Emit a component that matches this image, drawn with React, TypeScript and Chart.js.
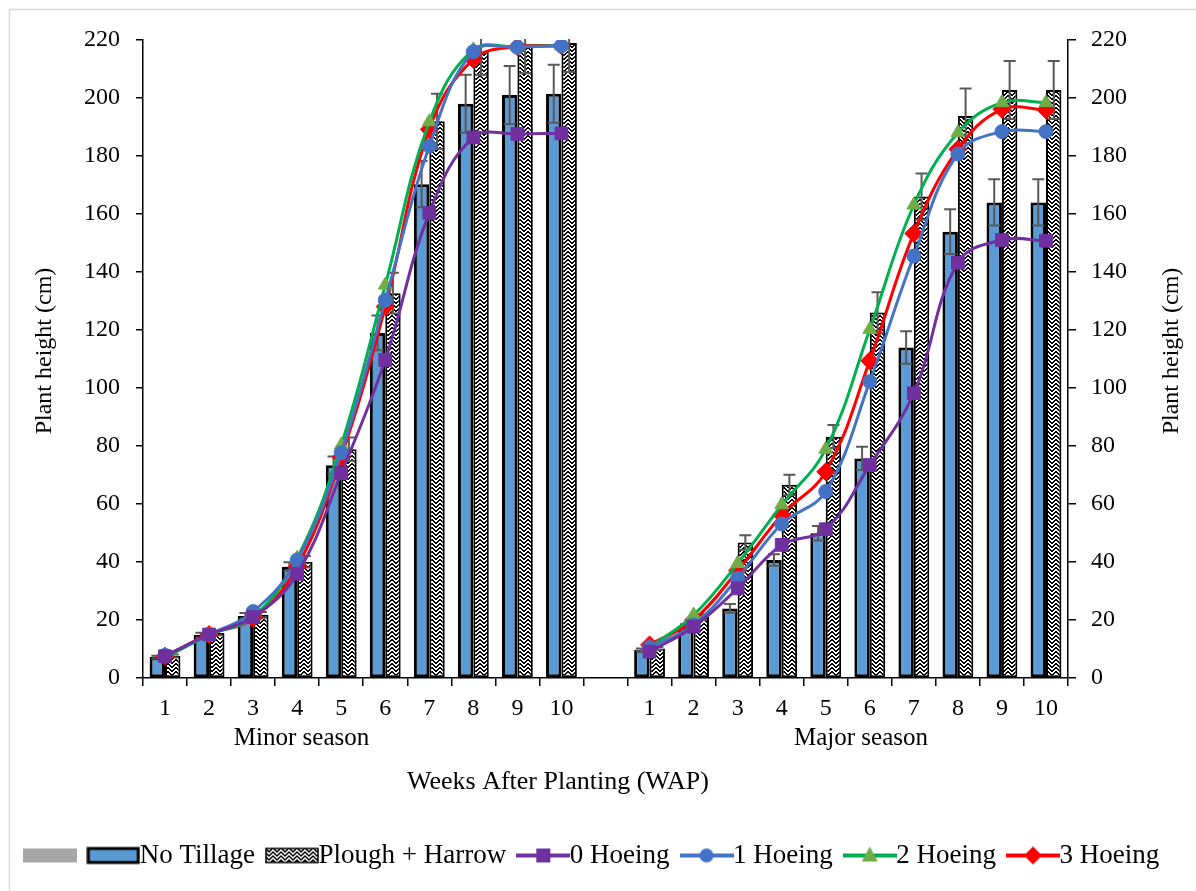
import React, { useEffect, useRef } from 'react';
import { Chart, registerables } from 'chart.js';

Chart.register(...registerables);

// ---------- data ----------
const weekLabels = ['1', '2', '3', '4', '5', '6', '7', '8', '9', '10'];
const categories = [...weekLabels, '', ...weekLabels];
const seasonLabels = ['Minor season', 'Major season'];
const xTitle = 'Weeks After Planting (WAP)';
const yTitle = 'Plant height (cm)';
const yMin = 0;
const yMax = 220;
const yStep = 20;

const minorNoTillage = [7.2, 14.8, 21.4, 38.4, 73.4, 119, 170.3, 198, 201, 201.5];
const majorNoTillage = [9.7, 17.5, 24, 40.7, 49.9, 75.7, 114, 153.9, 164, 164];
const minorNoTillageErr = [0.5, 0.8, 1, 1.5, 3, 6, 8, 10, 10, 10];
const majorNoTillageErr = [0.5, 1, 1.5, 2, 2.5, 4, 5.6, 7.7, 8, 8];

const minorPlough = [7.6, 15.5, 21.8, 40.1, 78.9, 132.7, 192, 216, 218.5, 219];
const majorPlough = [10.2, 21, 46.7, 66.6, 83.2, 126, 166, 193.8, 202.8, 202.8];
const minorPloughErr = [0.5, 0.8, 1, 2, 4, 7, 9.5, 8, 10, 10];
const majorPloughErr = [0.5, 1, 2.5, 3.5, 4, 7, 8, 9.5, 10, 10];

const minorHoe0 = [7.5, 15, 21, 35.9, 70.6, 109.7, 160.4, 186.4, 187.6, 187.8];
const majorHoe0 = [9.1, 17.7, 30.9, 45.9, 51.3, 73.4, 98.2, 143.2, 151, 150.8];
const minorHoe1 = [7.8, 15, 22.9, 40.7, 77.6, 130.3, 183.4, 216, 217.5, 218];
const majorHoe1 = [10.5, 18.3, 34.4, 53.1, 64.3, 102.2, 145.5, 180.7, 188.4, 188.4];
const minorHoe2 = [7, 14.8, 21, 41.3, 80.3, 135.5, 191.8, 216.6, 217.7, 218];
const majorHoe2 = [10.5, 21.7, 39.5, 59.7, 78.9, 120.2, 163.1, 188, 198.4, 198.4];
const minorHoe3 = [7.5, 15, 20.6, 38.4, 76.3, 128, 189.2, 213.3, 217.7, 218];
const majorHoe3 = [11.4, 20, 37, 56.2, 71.1, 109.4, 153.3, 182.3, 196.1, 195.9];

const seriesNames = ['No Tillage', 'Plough + Harrow', '0 Hoeing', '1 Hoeing', '2 Hoeing', '3 Hoeing'];

// ---------- styling ----------
const FONT = "'Liberation Serif', 'Times New Roman', Times, serif";
const BLUE_BAR = '#5B9BD5';
const PURPLE = '#7030A0';
const BLUE_LINE = '#4472C4';
const GREEN_LINE = '#00B050';
const GREEN_MARK = '#70AD47';
const RED = '#FF0000';
const ERR = '#595959';

const join = (a: (number | null)[], b: (number | null)[]) => [...a, null, ...b];

function makeZigzag(ctx: CanvasRenderingContext2D): CanvasPattern {
  const bits = [
    '11000011',
    '01100110',
    '00111100',
    '10011001',
    '11000011',
    '01100110',
    '00111100',
    '10011001',
  ];
  const c = document.createElement('canvas');
  c.width = 8;
  c.height = 8;
  const g = c.getContext('2d')!;
  g.fillStyle = '#fff';
  g.fillRect(0, 0, 8, 8);
  g.fillStyle = '#000';
  bits.forEach((row, y) => {
    for (let x = 0; x < 8; x++) {
      if (row[x] === '1') g.fillRect(x, y, 1, 1);
    }
  });
  return ctx.createPattern(c, 'repeat')!;
}

function legendCanvas(draw: (g: CanvasRenderingContext2D, w: number, h: number) => void) {
  const c = document.createElement('canvas');
  c.width = 54;
  c.height = 22;
  const g = c.getContext('2d')!;
  draw(g, 54, 22);
  return c;
}

function lineLegend(color: string, markColor: string, marker: string) {
  return legendCanvas((g, w, h) => {
    const cy = h / 2;
    g.strokeStyle = color;
    g.lineWidth = 4;
    g.beginPath();
    g.moveTo(0, cy);
    g.lineTo(w, cy);
    g.stroke();
    g.fillStyle = markColor;
    const cx = w / 2;
    g.beginPath();
    if (marker === 'rect') {
      g.rect(cx - 7, cy - 7, 14, 14);
    } else if (marker === 'circle') {
      g.arc(cx, cy, 7, 0, Math.PI * 2);
    } else if (marker === 'triangle') {
      g.moveTo(cx, cy - 9);
      g.lineTo(cx + 8, cy + 6);
      g.lineTo(cx - 8, cy + 6);
      g.closePath();
    } else {
      g.moveTo(cx, cy - 9);
      g.lineTo(cx + 9, cy);
      g.lineTo(cx, cy + 9);
      g.lineTo(cx - 9, cy);
      g.closePath();
    }
    g.fill();
  });
}

const errorBarPlugin = {
  id: 'errorBars',
  afterDatasetDraw(chart: any, args: any) {
    const ds = chart.data.datasets[args.index];
    if (!ds.errors) return;
    const meta = args.meta;
    const yScale = chart.scales[meta.yAxisID];
    const ctx = chart.ctx;
    const a = chart.chartArea;
    ctx.save();
    ctx.beginPath();
    ctx.rect(a.left, a.top - 1, a.right - a.left, a.bottom - a.top + 1);
    ctx.clip();
    ctx.strokeStyle = ERR;
    ctx.lineWidth = 2;
    meta.data.forEach((el: any, i: number) => {
      const v = ds.data[i];
      const e = ds.errors[i];
      if (v == null || e == null) return;
      const x = el.x;
      const yt = yScale.getPixelForValue(v + e);
      const yb = yScale.getPixelForValue(v - e);
      ctx.beginPath();
      ctx.moveTo(x, yt);
      ctx.lineTo(x, yb);
      ctx.moveTo(x - 6, yt);
      ctx.lineTo(x + 6, yt);
      ctx.moveTo(x - 6, yb);
      ctx.lineTo(x + 6, yb);
      ctx.stroke();
    });
    ctx.restore();
  },
};

const framePlugin = {
  id: 'frame',
  beforeDraw(chart: any) {
    const ctx = chart.ctx;
    ctx.save();
    ctx.fillStyle = '#fff';
    ctx.fillRect(0, 0, chart.width, chart.height);
    ctx.strokeStyle = '#D9D9D9';
    ctx.lineWidth = 1.5;
    ctx.strokeRect(9.5, 9.5, chart.width + 20, chart.height + 20);
    ctx.restore();
  },
};

const labelPlugin = {
  id: 'groupLabels',
  afterDraw(chart: any) {
    const ctx = chart.ctx;
    const x = chart.scales.x;
    const { top, bottom } = chart.chartArea;
    ctx.save();
    ctx.fillStyle = '#000';
    ctx.textAlign = 'center';
    ctx.textBaseline = 'middle';
    ctx.font = `25px ${FONT}`;
    ctx.fillText(seasonLabels[0], x.getPixelForValue(3.1), bottom + 60);
    ctx.fillText(seasonLabels[1], x.getPixelForValue(15.8), bottom + 60);
    ctx.font = `26px ${FONT}`;
    ctx.fillText(xTitle, x.getPixelForValue(8.92), bottom + 104);
    // vertical axis titles (both read bottom-to-top)
    ctx.font = `24px ${FONT}`;
    const cy = (top + bottom) / 2 - 8;
    [45, chart.scales.y2.right - 24].forEach((tx: number) => {
      ctx.save();
      ctx.translate(tx, cy);
      ctx.rotate(-Math.PI / 2);
      ctx.fillText(yTitle, 0, 0);
      ctx.restore();
    });
    ctx.restore();
  },
};

export default function App() {
  const ref = useRef<HTMLCanvasElement>(null);

  useEffect(() => {
    document.body.style.margin = '0';
    const canvas = ref.current!;
    const ctx = canvas.getContext('2d')!;
    const zig = makeZigzag(ctx);

    const PAD_BOTTOM = 12;
    const AREA_LEFT = 143;
    const AREA_RIGHT = 1068;
    const AREA_BOTTOM = 678;
    const PAD_LEFT = 0;

    const legendImages = [
      legendCanvas((g) => {
        g.fillStyle = '#A6A6A6';
        g.fillRect(0, 4, 54, 14);
      }),
      legendCanvas((g) => {
        g.fillStyle = BLUE_BAR;
        g.fillRect(2, 4, 50, 14);
        g.strokeStyle = '#000';
        g.lineWidth = 3;
        g.strokeRect(2, 4, 50, 14);
      }),
      legendCanvas((g) => {
        g.fillStyle = zig;
        g.fillRect(1, 4, 52, 14);
        g.strokeStyle = '#000';
        g.lineWidth = 1.5;
        g.strokeRect(1, 4, 52, 14);
      }),
      lineLegend(PURPLE, PURPLE, 'rect'),
      lineLegend(BLUE_LINE, BLUE_LINE, 'circle'),
      lineLegend(GREEN_LINE, GREEN_MARK, 'triangle'),
      lineLegend(RED, RED, 'rectRot'),
    ];
    const legendTexts = ['', ...seriesNames];

    const lineDs = (label: string, data: (number | null)[], color: string, mark: string, style: string, radius: number) => ({
      type: 'line' as const,
      label,
      data,
      order: 0,
      yAxisID: 'y',
      borderColor: color,
      backgroundColor: mark,
      borderWidth: 3,
      tension: 0.4,
      spanGaps: false,
      pointStyle: style,
      pointRadius: radius,
      pointBackgroundColor: mark,
      pointBorderColor: mark,
      pointBorderWidth: 1,
    });

    const tickFont = { family: FONT, size: 24 };

    const chart = new Chart(canvas, {
      type: 'bar',
      data: {
        labels: categories,
        datasets: [
          {
            type: 'bar',
            label: seriesNames[0],
            data: join(minorNoTillage, majorNoTillage),
            errors: join(minorNoTillageErr, majorNoTillageErr),
            backgroundColor: BLUE_BAR,
            borderColor: '#000',
            borderWidth: 3,
            borderSkipped: false,
            order: 1,
            categoryPercentage: 0.7,
            barPercentage: 1.0,
            yAxisID: 'y',
          } as any,
          {
            type: 'bar',
            label: seriesNames[1],
            data: join(minorPlough, majorPlough),
            errors: join(minorPloughErr, majorPloughErr),
            backgroundColor: zig,
            borderColor: '#000',
            borderWidth: 2,
            borderSkipped: false,
            order: 1,
            categoryPercentage: 0.7,
            barPercentage: 1.0,
            yAxisID: 'y',
          } as any,
          lineDs(seriesNames[2], join(minorHoe0, majorHoe0), PURPLE, PURPLE, 'rect', 9),
          lineDs(seriesNames[3], join(minorHoe1, majorHoe1), BLUE_LINE, BLUE_LINE, 'circle', 7),
          lineDs(seriesNames[4], join(minorHoe2, majorHoe2), GREEN_LINE, GREEN_MARK, 'triangle', 8),
          lineDs(seriesNames[5], join(minorHoe3, majorHoe3), RED, RED, 'rectRot', 9),
        ] as any,
      },
      options: {
        responsive: false,
        animation: false,
        devicePixelRatio: 1,
        layout: { padding: { left: PAD_LEFT, right: 0, top: 40, bottom: PAD_BOTTOM } },
        plugins: {
          tooltip: { enabled: false },
          legend: {
            position: 'bottom',
            labels: {
              usePointStyle: true,
              pointStyleWidth: 26,
              padding: 24,
              color: '#000',
              font: { family: FONT, size: 27 },
              generateLabels: () =>
                legendTexts.map((t, i) => ({
                  text: t,
                  pointStyle: legendImages[i] as any,
                  fillStyle: '#fff',
                  strokeStyle: '#fff',
                  lineWidth: 0,
                  hidden: false,
                  fontColor: '#000',
                  datasetIndex: i === 0 ? undefined : i - 1,
                })),
            },
          },
        },
        scales: {
          x: {
            type: 'category',
            offset: true,
            grid: { offset: true, drawOnChartArea: false, tickLength: 8, color: '#000', lineWidth: 1.5 },
            border: { color: '#000', width: 1.5 },
            ticks: { autoSkip: false, maxRotation: 0, font: tickFont, color: '#000', padding: 8 },
            afterFit: (scale: any) => {
              const lh = scale.chart.legend ? scale.chart.legend.height : 60;
              scale.height = scale.chart.height - PAD_BOTTOM - lh - AREA_BOTTOM;
            },
          },
          y: {
            position: 'left',
            min: yMin,
            max: yMax,
            ticks: { stepSize: yStep, font: tickFont, color: '#000', padding: 16 },
            grid: { drawOnChartArea: false, tickLength: 7, color: '#000', lineWidth: 1.5 },
            border: { color: '#000', width: 1.5 },
            afterFit: (scale: any) => {
              scale.width = AREA_LEFT - PAD_LEFT;
            },
          },
          y2: {
            position: 'right',
            min: yMin,
            max: yMax,
            ticks: { stepSize: yStep, font: tickFont, color: '#000', padding: 15 },
            grid: { drawOnChartArea: false, tickLength: 8, color: '#000', lineWidth: 1.5 },
            border: { color: '#000', width: 1.5 },
            afterFit: (scale: any) => {
              scale.width = scale.chart.width - AREA_RIGHT;
            },
          },
        },
      } as any,
      plugins: [framePlugin, errorBarPlugin, labelPlugin],
    });

    return () => chart.destroy();
  }, []);

  return (
    <div style={{ width: 1196, height: 891 }}>
      <canvas ref={ref} width={1196} height={891} style={{ display: 'block' }} />
    </div>
  );
}
